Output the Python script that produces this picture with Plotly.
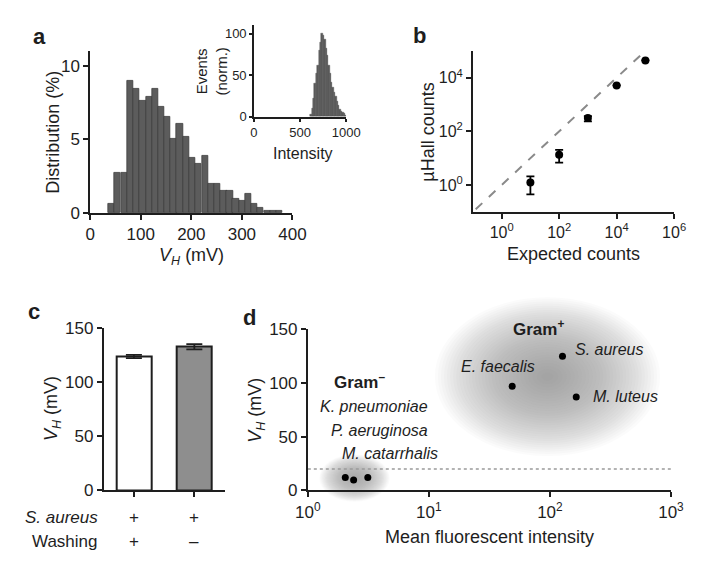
import math
import plotly.graph_objects as go

W, H = 701, 561

# ---------------- data ----------------
# panel a: V_H histogram (mV, % of events)
vh_bin_centers = [42, 54, 67, 79, 91, 104, 116, 128, 141, 153, 165, 177, 190, 202,
                  214, 227, 239, 251, 264, 276, 288, 300, 313, 325, 337, 350, 362, 374]
vh_distribution = [0.65, 2.7, 2.7, 8.95, 8.45, 7.58, 7.9, 8.42, 7.23, 6.56, 5.03, 6.03, 5.2, 3.72,
                   3.35, 3.86, 2.0, 2.0, 1.52, 1.52, 0.98, 0.83, 1.33, 0.61, 0.33, 0.13, 0.13, 0.13]
vh_bin_width = 12.3

# panel a inset: fluorescence intensity histogram
int_bin_centers = [617.5, 632.5, 647.5, 662.5, 677.5, 692.5, 707.5, 722.5, 737.5, 752.5,
                   767.5, 782.5, 797.5, 812.5, 827.5, 842.5, 857.5, 872.5, 887.5, 902.5,
                   917.5, 932.5, 947.5, 962.5, 977.5, 992.5]
int_events = [3, 10, 22, 40, 52, 62, 80, 90, 100, 98, 93, 82, 74, 62, 52, 42, 35, 29, 24, 18,
              14, 9, 7, 5, 4, 2]
int_bin_width = 15

# panel b: uHall counts vs expected counts
expected_counts = [10, 100, 1000, 1e4, 1e5]
uhall_counts = [1.25, 13.5, 316, 5150, 44000]
uhall_err_plus = [0.85, 7.0, 50, 0, 0]
uhall_err_minus = [0.8, 6.7, 80, 0, 0]
identity_x = [0.125, 1e5]

# panel c: bars
c_categories = [0, 1]
c_values = [124, 133]
c_errors = [1.5, 2.5]
c_row1 = ["+", "+"]
c_row2 = ["+", "\u2013"]

# panel d: bacteria
gram_neg_names = ["K. pneumoniae", "P. aeruginosa", "M. catarrhalis"]
gram_neg_mfi = [2.04, 2.39, 3.13]
gram_neg_vh = [12, 9.6, 12]
gram_pos_names = ["E. faecalis", "S. aureus", "M. luteus"]
gram_pos_mfi = [48.8, 127, 165]
gram_pos_vh = [97, 125, 87]
vh_threshold = 20

# ---------------- helpers ----------------
def px(x):
    return x / W

def py(y):
    return 1 - y / H

FONT = "Liberation Sans, Arial, Helvetica, sans-serif"
INK = "#1e1e1e"

fig = go.Figure()

# panel a main histogram
fig.add_trace(go.Bar(x=vh_bin_centers, y=vh_distribution, width=vh_bin_width,
                     marker=dict(color="#5c5c5c", line=dict(color="#3c3c3c", width=0.8)),
                     xaxis="x", yaxis="y", showlegend=False))
# inset
fig.add_trace(go.Bar(x=int_bin_centers, y=int_events, width=int_bin_width,
                     marker=dict(color="#5c5c5c", line=dict(color="#4a4a4a", width=0.4)),
                     xaxis="x2", yaxis="y2", showlegend=False))
# panel b
fig.add_trace(go.Scatter(x=identity_x, y=identity_x, mode="lines",
                         line=dict(color="#8a8a8a", width=2, dash="dash"),
                         xaxis="x3", yaxis="y3", showlegend=False, hoverinfo="skip"))
fig.add_trace(go.Scatter(x=expected_counts, y=uhall_counts, mode="markers",
                         marker=dict(color="black", size=8),
                         error_y=dict(type="data", array=uhall_err_plus, arrayminus=uhall_err_minus,
                                      color="black", thickness=1.8, width=4),
                         xaxis="x3", yaxis="y3", showlegend=False))
# panel c
fig.add_trace(go.Bar(x=c_categories, y=c_values, width=0.58,
                     marker=dict(color=["white", "#8e8e8e"], line=dict(color=INK, width=2)),
                     error_y=dict(type="data", array=c_errors, color=INK, thickness=1.8, width=8),
                     xaxis="x4", yaxis="y4", showlegend=False))
# panel d
fig.add_trace(go.Scatter(x=[1, 1000], y=[vh_threshold, vh_threshold], mode="lines",
                         line=dict(color="#9a9a9a", width=1.5, dash="dot"),
                         xaxis="x5", yaxis="y5", showlegend=False, hoverinfo="skip"))
fig.add_trace(go.Scatter(x=gram_neg_mfi + gram_pos_mfi, y=gram_neg_vh + gram_pos_vh,
                         mode="markers", marker=dict(color="black", size=7),
                         xaxis="x5", yaxis="y5", showlegend=False))

# ---------------- gradient clouds in panel d ----------------
D_XLOG = [0, 3]
D_Y = [0, 150]

def dfrac_x(logv):
    return (logv - D_XLOG[0]) / (D_XLOG[1] - D_XLOG[0])

def dfrac_y(v):
    return (v - D_Y[0]) / (D_Y[1] - D_Y[0])

shapes = []

def cloud(cx_log, hw_log, cy, hh, n=32, alpha=0.03, power=0.85):
    for k in range(n, 0, -1):
        s = (k / n) ** power
        shapes.append(dict(type="circle", xref="x5 domain", yref="y5 domain",
                           x0=dfrac_x(cx_log - hw_log * s), x1=dfrac_x(cx_log + hw_log * s),
                           y0=dfrac_y(cy - hh * s), y1=dfrac_y(cy + hh * s),
                           fillcolor="#7a7a7a", opacity=alpha, line=dict(width=0),
                           layer="below"))

cloud(1.98, 0.93, 106, 74)
cloud(math.log10(2.43), 0.29, 11.5, 22, n=28, alpha=0.03, power=0.7)

# ---------------- axes ----------------
def ax(domain, rng, anchor, **kw):
    d = dict(domain=domain, range=rng, anchor=anchor, showline=True, linecolor=INK,
             linewidth=1.8, ticks="outside", ticklen=5, tickwidth=1.8, tickcolor=INK,
             showgrid=False, zeroline=False, tickfont=dict(family=FONT, size=17, color=INK),
             fixedrange=True)
    d.update(kw)
    return d

layout = dict(
    width=W, height=H, margin=dict(l=0, r=0, t=0, b=0),
    paper_bgcolor="white", plot_bgcolor="rgba(0,0,0,0)",
    font=dict(family=FONT, color=INK), bargap=0,
    xaxis=ax([px(72), px(282.3)], [0, 400], "y", tickvals=[0, 100, 200, 300, 400]),
    yaxis=ax([py(203), py(35)], [0, 11], "x", tickvals=[0, 5, 10]),
    xaxis2=ax([px(242.3), px(338.3)], [0, 1000], "y2", tickvals=[0, 500, 1000],
              tickfont=dict(family=FONT, size=13, color=INK), ticklen=3, linewidth=1.5, tickwidth=1.5),
    yaxis2=ax([py(103.3), py(8.7)], [0, 110], "x2", tickvals=[0, 50, 100],
              tickfont=dict(family=FONT, size=13, color=INK), ticklen=3, linewidth=1.5, tickwidth=1.5),
    xaxis3=ax([px(470), px(679.3)], [-1, 6], "y3", type="log", tickvals=[1, 100, 1e4, 1e6],
              ticktext=["10<sup>0</sup>", "10<sup>2</sup>", "10<sup>4</sup>", "10<sup>6</sup>"],
              tickfont=dict(family=FONT, size=16, color=INK)),
    yaxis3=ax([py(201.7), py(35)], [-1, 5], "x3", type="log", tickvals=[1, 100, 1e4],
              ticktext=["10<sup>0</sup>", "10<sup>2</sup>", "10<sup>4</sup>"],
              tickfont=dict(family=FONT, size=16, color=INK)),
    xaxis4=ax([px(86), px(211.7)], [-0.5, 1.5], "y4", tickvals=c_categories, showticklabels=False),
    yaxis4=ax([py(490), py(322.3)], [0, 150], "x4", tickvals=[0, 50, 100, 150]),
    xaxis5=ax([px(298.3), px(676)], D_XLOG, "y5", type="log", tickvals=[1, 10, 100, 1000],
              ticktext=["10<sup>0</sup>", "10<sup>1</sup>", "10<sup>2</sup>", "10<sup>3</sup>"],
              tickfont=dict(family=FONT, size=17, color=INK)),
    yaxis5=ax([py(490), py(323.3)], D_Y, "x5", tickvals=[0, 50, 100, 150]),
    shapes=shapes,
)

ann = []

def text(x, y, t, size=18, angle=0, xanchor="center", yanchor="middle", **kw):
    a = dict(x=px(x), y=py(y), xref="paper", yref="paper", text=t, showarrow=False,
             textangle=angle, xanchor=xanchor, yanchor=yanchor,
             font=dict(family=FONT, size=size, color=INK))
    a.update(kw)
    ann.append(a)

VH = "<i>V</i><sub><i>H</i></sub> (mV)"

# panel letters
text(19, 20, "<b>a</b>", size=22)
text(414, 19, "<b>b</b>", size=22)
text(14, 305, "<b>c</b>", size=22)
text(238, 311, "<b>d</b>", size=22)

# panel a titles
text(33, 119, "Distribution (%)", angle=-90)
text(177, 248, VH)
text(198, 56, "Events<br>(norm.)", size=15, angle=-90)
text(293, 141, "Intensity", size=16)

# panel b titles
text(423, 119, "\u00b5Hall counts", angle=-90)
text(575, 245, "Expected counts")

# panel c titles and condition rows
text(33, 405, VH, angle=-90)
text(82, 518, "<i>S. aureus</i>", size=17, xanchor="right")
text(82, 543, "Washing", size=17, xanchor="right")
for i, (r1, r2) in enumerate(zip(c_row1, c_row2)):
    ann.append(dict(x=c_categories[i], y=py(518), xref="x4", yref="paper", yanchor="middle",
                    text=r1, showarrow=False, font=dict(family=FONT, size=17, color=INK)))
    ann.append(dict(x=c_categories[i], y=py(543), xref="x4", yref="paper", yanchor="middle",
                    text=r2, showarrow=False, font=dict(family=FONT, size=17, color=INK)))

# panel d titles and labels
text(245, 407, VH, angle=-90)
text(487, 538, "Mean fluorescent intensity")
text(538, 322, "<b>Gram<sup>+</sup></b>", size=17)
text(352, 377, "<b>Gram<sup>\u2013</sup></b>", size=17)
neg_label_pos = [(367, 403), (373, 428), (384, 452)]
for name, (lx, ly) in zip(gram_neg_names, neg_label_pos):
    text(lx, ly, "<i>" + name + "</i>", size=16)

pos_label_offsets = [(-14, 20, "center"), (11, 7, "left"), (15, 0, "left")]
for name, mfi, v, (dx, dy, xa) in zip(gram_pos_names, gram_pos_mfi, gram_pos_vh, pos_label_offsets):
    ann.append(dict(x=math.log10(mfi), y=v, xref="x5", yref="y5", text="<i>" + name + "</i>",
                    showarrow=False, xanchor=xa, yanchor="middle", xshift=dx, yshift=dy,
                    font=dict(family=FONT, size=16, color=INK)))

layout["annotations"] = ann
fig.update_layout(**layout)
fig.write_html("out.html")
